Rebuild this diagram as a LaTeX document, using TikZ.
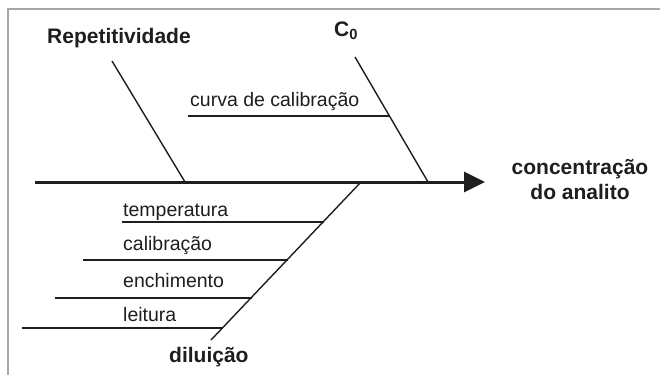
\documentclass[tikz,border=0pt]{standalone}
\usepackage{fontspec}
\setmainfont{Liberation Sans}
\usetikzlibrary{arrows.meta,calc}
\definecolor{ink}{HTML}{1E1E1E}
\definecolor{frame}{HTML}{A6A6A6}
\tikzset{
  big/.style={font=\fontsize{21}{25}\selectfont\bfseries, text=ink, inner sep=0pt},
  small/.style={font=\fontsize{19.5}{23}\selectfont, text=ink, inner sep=0pt, anchor=base west},
  bone/.style={draw=ink, line width=1.4pt},
  spine/.style={draw=ink, line width=3pt, -{Triangle[length=21pt,width=20pt]}}
}
\begin{document}
\begin{tikzpicture}[x=1pt,y=-1pt]
\useasboundingbox (0,0) rectangle (660,375);
\fill[white] (0,0) rectangle (660,375);
% frame
\draw[frame, line width=2pt] (8,375) -- (8,9) -- (660,9);

% spine
\coordinate (s0) at (35,182);
\coordinate (s1) at (485,182);
\draw[spine] (s0) -- (s1);

% effect
\node[big, align=center, anchor=north] (eff) at (580,159) {concentração\\do analito};

% Repetitividade
\node[big, anchor=base west] (rep) at (47,43) {Repetitividade};
\coordinate (r1) at (112,61);
\coordinate (r2) at (185,182);
\draw[bone] (r1) -- (r2);

% C0
\node[big, anchor=base west] (c0) at (334,36) {C$_{\mathbf{0}}$};
\coordinate (c1) at (355,57);
\coordinate (c2) at (428,182);
\draw[bone] (c1) -- (c2);
\coordinate (cv1) at (188,116);
\coordinate (cv2) at ($(c1)!0.472!(c2)$);
\node[small] (cv) at (190,106) {curva de calibração};
\draw[bone] (cv1) -- (cv2);

% diluicao
\coordinate (d1) at (361,182);
\coordinate (d2) at (211,340);
\draw[bone] (d1) -- (d2);
\node[big, anchor=base west] (dil) at (169,362) {diluição};

\coordinate (t1) at (122,222); \coordinate (t2) at (324,222);
\coordinate (k1) at (83,260);  \coordinate (k2) at (288,260);
\coordinate (e1) at (55,298);  \coordinate (e2) at (252,298);
\coordinate (l1) at (22,328);  \coordinate (l2) at (223,328);
\draw[bone] (t1) -- (t2);
\draw[bone] (k1) -- (k2);
\draw[bone] (e1) -- (e2);
\draw[bone] (l1) -- (l2);
\node[small] (tt) at (123,216) {temperatura};
\node[small] (tk) at (123,250) {calibração};
\node[small] (te) at (123,287) {enchimento};
\node[small] (tl) at (123,321) {leitura};
\end{tikzpicture}
\end{document}
